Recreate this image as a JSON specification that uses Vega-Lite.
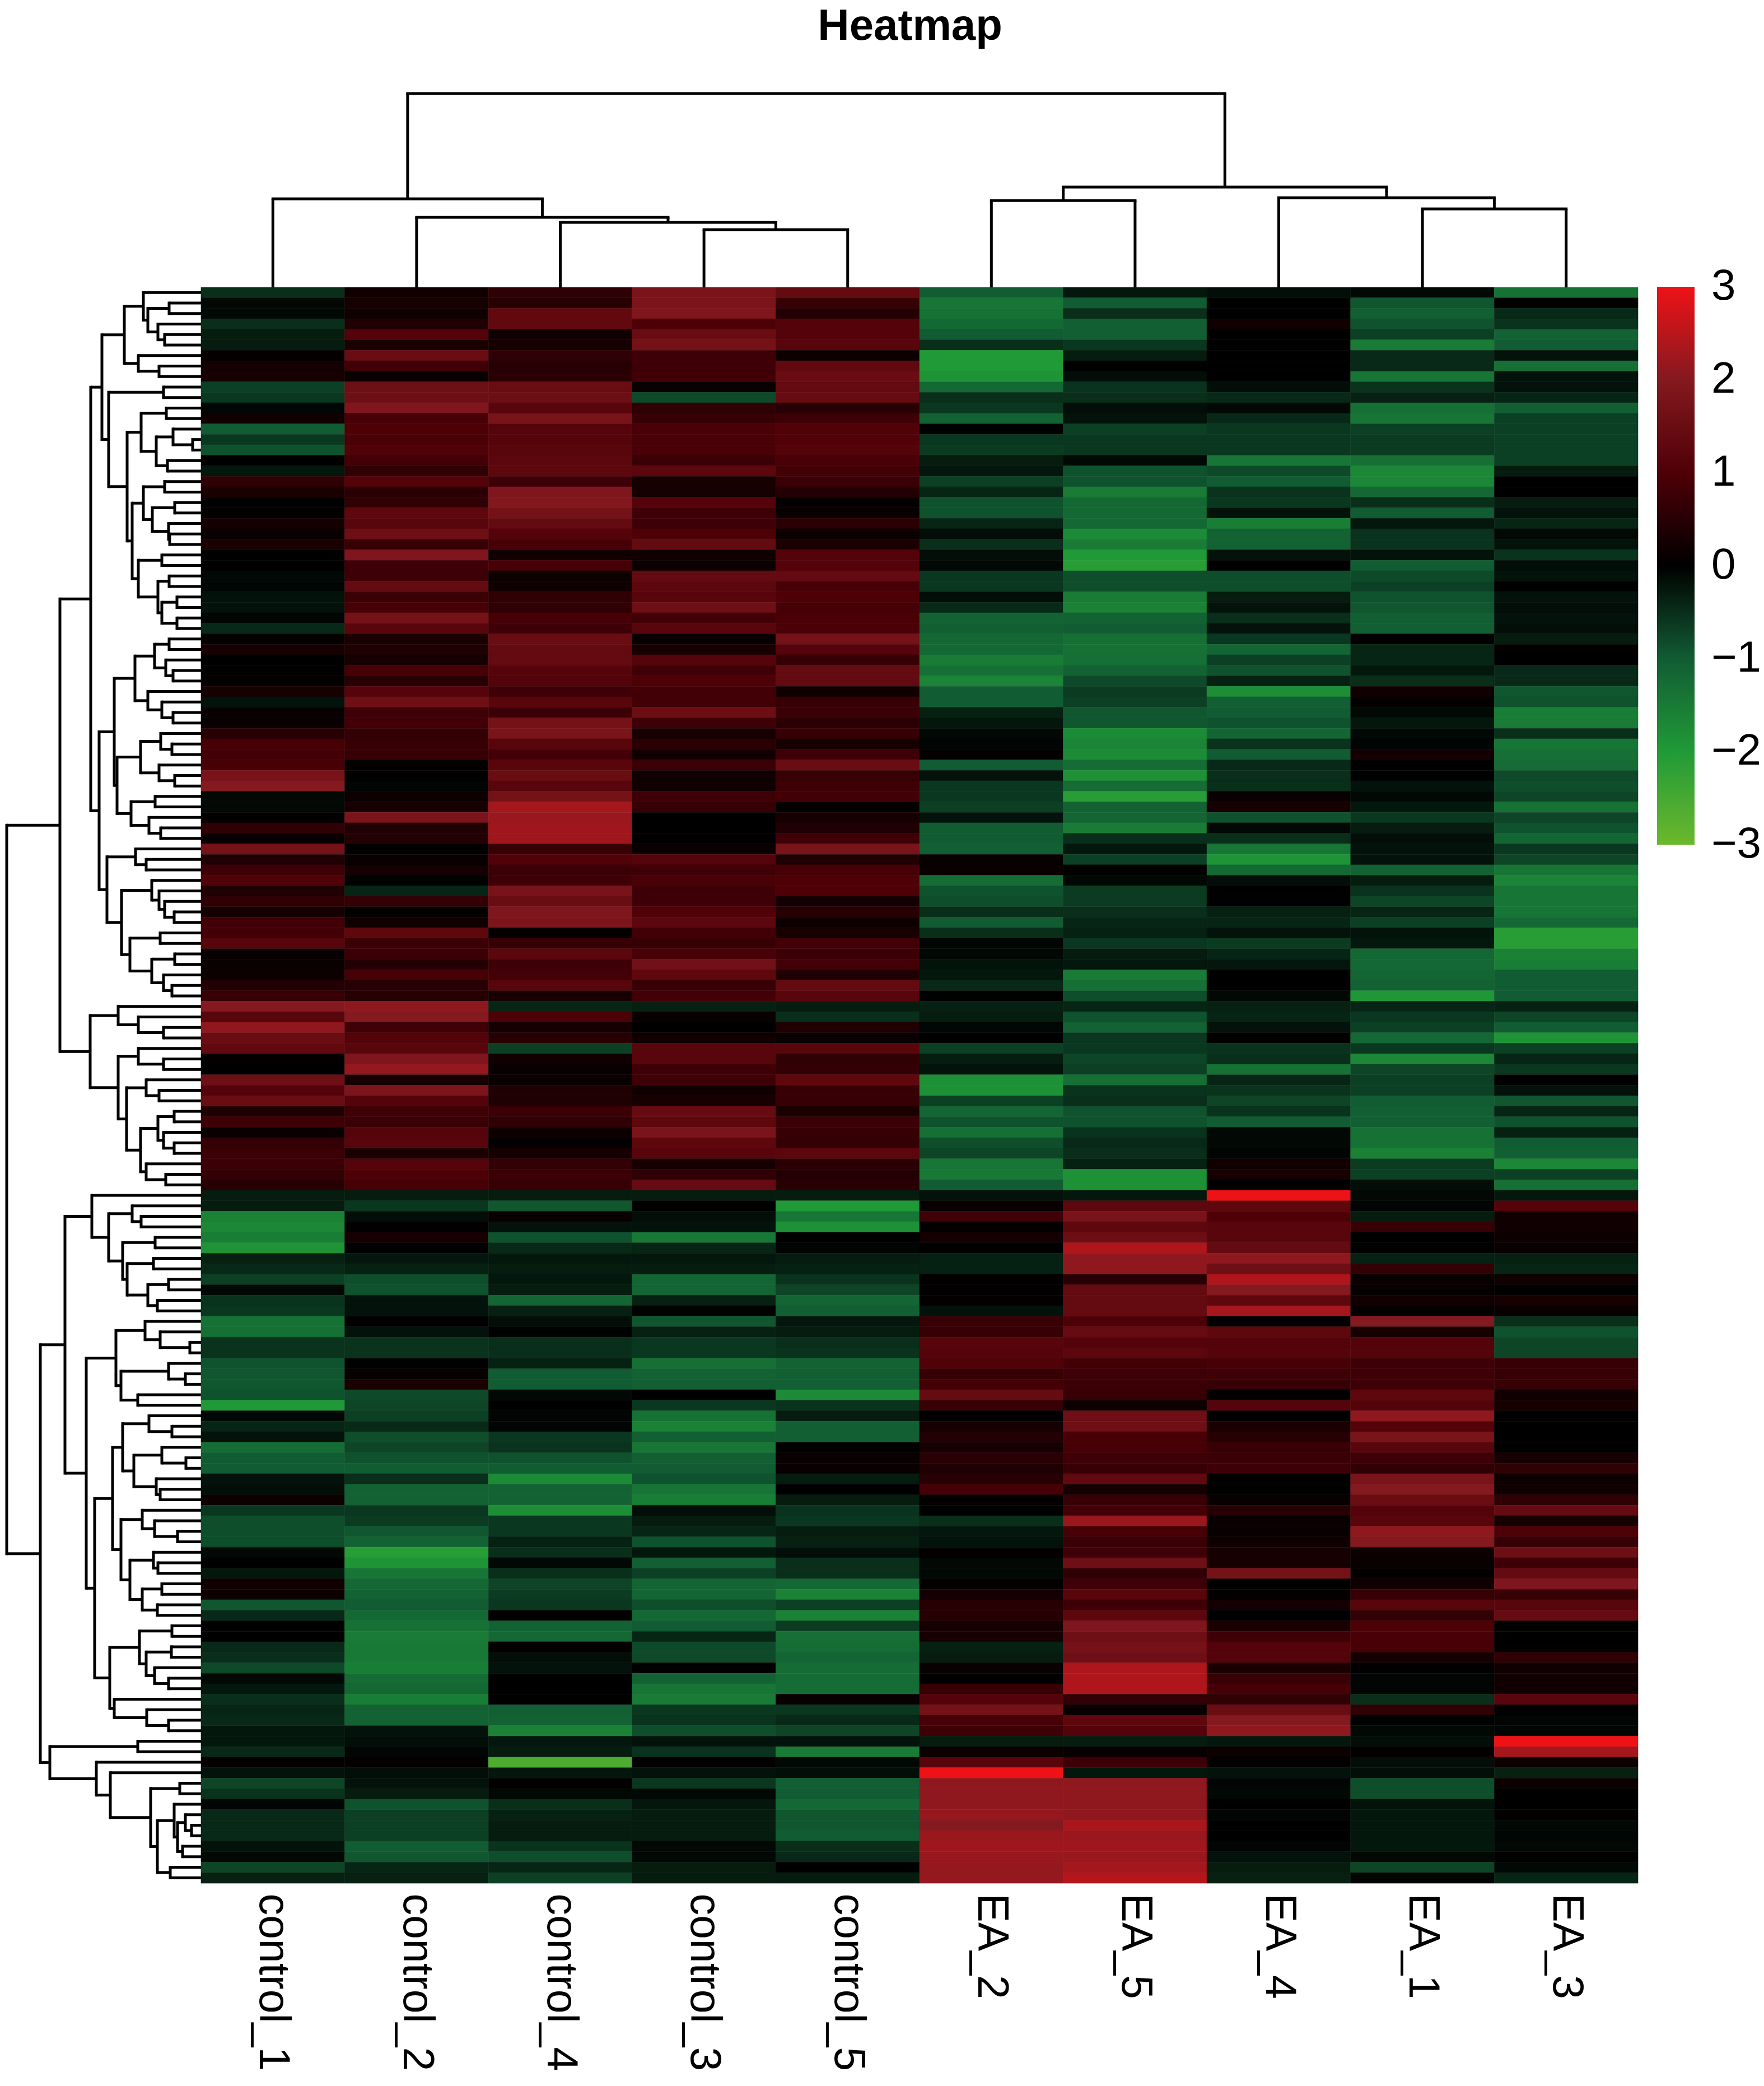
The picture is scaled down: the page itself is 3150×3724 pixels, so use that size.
{"$schema":"https://vega.github.io/schema/vega-lite/v6.json","width":3150,"height":3724,"autosize":{"type":"none"},"padding":0,"background":"white","config":{"view":{"stroke":null}},
"resolve":{"scale":{"x":"independent","y":"independent"}},
"datasets":{"left":[
{"h":57,"a":1.5,"b":2.5,"ha":0,"hb":0},{"h":65,"a":4.5,"b":5.5,"ha":0,"hb":0},{"h":77,"a":3.5,"b":5,"ha":0,"hb":65},{"h":95,"a":2,"b":4.25,"ha":57,"hb":77},{"h":103,"a":0.5,"b":3.125,"ha":0,"hb":95},{"h":75,"a":7.5,"b":8.5,"ha":0,"hb":0},{"h":112,"a":6.5,"b":8,"ha":0,"hb":75},{"h":137,"a":1.81,"b":7.25,"ha":103,"hb":112},{"h":67,"a":9.5,"b":10.5,"ha":0,"hb":0},{"h":62,"a":11.5,"b":12.5,"ha":0,"hb":0},{"h":15,"a":14.5,"b":15.5,"ha":0,"hb":0},{"h":50,"a":13.5,"b":15,"ha":0,"hb":15},{"h":60,"a":16.5,"b":17.5,"ha":0,"hb":0},{"h":80,"a":14.25,"b":17,"ha":50,"hb":60},{"h":107,"a":12,"b":15.625,"ha":62,"hb":80},{"h":65,"a":18.5,"b":19.5,"ha":0,"hb":0},{"h":47,"a":20.5,"b":21.5,"ha":0,"hb":0},{"h":56,"a":23.5,"b":24.5,"ha":0,"hb":0},{"h":58,"a":22.5,"b":24,"ha":0,"hb":56},{"h":87,"a":21,"b":23.25,"ha":47,"hb":58},{"h":103,"a":19,"b":22.125,"ha":65,"hb":87},{"h":70,"a":25.5,"b":26.5,"ha":0,"hb":0},{"h":57,"a":27.5,"b":28.5,"ha":0,"hb":0},{"h":43,"a":29.5,"b":30.5,"ha":0,"hb":0},{"h":43,"a":31.5,"b":32.5,"ha":0,"hb":0},{"h":70,"a":30,"b":32,"ha":43,"hb":43},{"h":77,"a":28,"b":31,"ha":57,"hb":70},{"h":112,"a":26,"b":29.5,"ha":70,"hb":77},{"h":123,"a":20.56,"b":27.75,"ha":103,"hb":112},{"h":132,"a":13.81,"b":24.16,"ha":107,"hb":123},{"h":165,"a":10,"b":18.985,"ha":67,"hb":132},{"h":177,"a":4.53,"b":14.49,"ha":137,"hb":165},
{"h":57,"a":33.5,"b":34.5,"ha":0,"hb":0},{"h":50,"a":36.5,"b":37.5,"ha":0,"hb":0},{"h":63,"a":35.5,"b":37,"ha":0,"hb":50},{"h":83,"a":34,"b":36.25,"ha":57,"hb":63},{"h":50,"a":40.5,"b":41.5,"ha":0,"hb":0},{"h":70,"a":39.5,"b":41,"ha":0,"hb":50},{"h":95,"a":38.5,"b":40.25,"ha":0,"hb":70},{"h":118,"a":35.125,"b":39.375,"ha":83,"hb":95},{"h":52,"a":43.5,"b":44.5,"ha":0,"hb":0},{"h":72,"a":42.5,"b":44,"ha":0,"hb":52},{"h":47,"a":46.5,"b":47.5,"ha":0,"hb":0},{"h":75,"a":45.5,"b":47,"ha":0,"hb":47},{"h":108,"a":43.25,"b":46.25,"ha":72,"hb":75},{"h":82,"a":48.5,"b":49.5,"ha":0,"hb":0},{"h":72,"a":51.5,"b":52.5,"ha":0,"hb":0},{"h":93,"a":50.5,"b":52,"ha":0,"hb":72},{"h":125,"a":49,"b":51.25,"ha":82,"hb":93},{"h":150,"a":44.75,"b":50.125,"ha":108,"hb":125},{"h":155,"a":37.25,"b":47.44,"ha":118,"hb":150},{"h":98,"a":54.5,"b":55.5,"ha":0,"hb":0},{"h":117,"a":53.5,"b":55,"ha":0,"hb":98},{"h":48,"a":59.5,"b":60.5,"ha":0,"hb":0},{"h":65,"a":58.5,"b":60,"ha":0,"hb":48},{"h":75,"a":57.5,"b":59.25,"ha":0,"hb":65},{"h":88,"a":56.5,"b":58.375,"ha":0,"hb":75},{"h":73,"a":61.5,"b":62.5,"ha":0,"hb":0},{"h":47,"a":63.5,"b":64.5,"ha":0,"hb":0},{"h":52,"a":66.5,"b":67.5,"ha":0,"hb":0},{"h":67,"a":65.5,"b":67,"ha":0,"hb":52},{"h":88,"a":64,"b":66.25,"ha":47,"hb":67},{"h":127,"a":62,"b":65.125,"ha":73,"hb":88},{"h":142,"a":57.44,"b":63.56,"ha":88,"hb":127},{"h":168,"a":54.25,"b":60.5,"ha":117,"hb":142},{"h":182,"a":42.345,"b":57.375,"ha":155,"hb":168},{"h":197,"a":9.51,"b":49.86,"ha":177,"hb":182},
{"h":67,"a":70.5,"b":71.5,"ha":0,"hb":0},{"h":112,"a":69.5,"b":71,"ha":0,"hb":67},{"h":148,"a":68.5,"b":70.25,"ha":0,"hb":112},{"h":67,"a":73.5,"b":74.5,"ha":0,"hb":0},{"h":112,"a":72.5,"b":74,"ha":0,"hb":67},{"h":75,"a":76.5,"b":77.5,"ha":0,"hb":0},{"h":98,"a":75.5,"b":77,"ha":0,"hb":75},{"h":48,"a":78.5,"b":79.5,"ha":0,"hb":0},{"h":48,"a":81.5,"b":82.5,"ha":0,"hb":0},{"h":67,"a":80.5,"b":82,"ha":0,"hb":48},{"h":77,"a":79,"b":81.25,"ha":48,"hb":67},{"h":63,"a":84.5,"b":85.5,"ha":0,"hb":0},{"h":98,"a":83.5,"b":85,"ha":0,"hb":63},{"h":108,"a":80.125,"b":84.25,"ha":77,"hb":98},{"h":133,"a":76.25,"b":82.19,"ha":98,"hb":108},{"h":148,"a":73.25,"b":79.22,"ha":112,"hb":133},{"h":198,"a":69.375,"b":76.235,"ha":148,"hb":148},{"h":252,"a":29.685,"b":72.8,"ha":197,"hb":198},
{"h":107,"a":88.5,"b":89.5,"ha":0,"hb":0},{"h":123,"a":87.5,"b":89,"ha":0,"hb":107},{"h":82,"a":90.5,"b":91.5,"ha":0,"hb":0},{"h":85,"a":92.5,"b":93.5,"ha":0,"hb":0},{"h":58,"a":94.5,"b":95.5,"ha":0,"hb":0},{"h":78,"a":96.5,"b":97.5,"ha":0,"hb":0},{"h":95,"a":95,"b":97,"ha":58,"hb":78},{"h":132,"a":93,"b":96,"ha":85,"hb":95},{"h":140,"a":91,"b":94.5,"ha":82,"hb":132},{"h":165,"a":88.25,"b":92.75,"ha":123,"hb":140},{"h":195,"a":86.5,"b":90.5,"ha":0,"hb":165},{"h":20,"a":100.5,"b":101.5,"ha":0,"hb":0},{"h":73,"a":99.5,"b":101,"ha":0,"hb":20},{"h":100,"a":98.5,"b":100.25,"ha":0,"hb":73},{"h":28,"a":103.5,"b":104.5,"ha":0,"hb":0},{"h":58,"a":102.5,"b":104,"ha":0,"hb":28},{"h":113,"a":105.5,"b":106.5,"ha":0,"hb":0},{"h":143,"a":103.25,"b":106,"ha":58,"hb":113},{"h":152,"a":99.375,"b":104.625,"ha":100,"hb":143},{"h":52,"a":108.5,"b":109.5,"ha":0,"hb":0},{"h":93,"a":107.5,"b":109,"ha":0,"hb":52},{"h":27,"a":111.5,"b":112.5,"ha":0,"hb":0},{"h":70,"a":110.5,"b":112,"ha":0,"hb":27},{"h":73,"a":114.5,"b":115.5,"ha":0,"hb":0},{"h":80,"a":113.5,"b":115,"ha":0,"hb":73},{"h":120,"a":111.25,"b":114.25,"ha":70,"hb":80},{"h":140,"a":108.25,"b":112.75,"ha":93,"hb":120},{"h":42,"a":118.5,"b":119.5,"ha":0,"hb":0},{"h":83,"a":117.5,"b":119,"ha":0,"hb":42},{"h":105,"a":116.5,"b":118.25,"ha":0,"hb":83},{"h":77,"a":121.5,"b":122.5,"ha":0,"hb":0},{"h":85,"a":120.5,"b":122,"ha":0,"hb":77},{"h":70,"a":123.5,"b":124.5,"ha":0,"hb":0},{"h":78,"a":125.5,"b":126.5,"ha":0,"hb":0},{"h":105,"a":124,"b":126,"ha":70,"hb":78},{"h":127,"a":121.25,"b":125,"ha":85,"hb":105},{"h":143,"a":117.375,"b":123.125,"ha":105,"hb":127},{"h":158,"a":110.5,"b":120.25,"ha":140,"hb":143},{"h":52,"a":127.5,"b":128.5,"ha":0,"hb":0},{"h":53,"a":129.5,"b":130.5,"ha":0,"hb":0},{"h":58,"a":132.5,"b":133.5,"ha":0,"hb":0},{"h":83,"a":131.5,"b":133,"ha":0,"hb":58},{"h":98,"a":130,"b":132.25,"ha":53,"hb":83},{"h":110,"a":128,"b":131.125,"ha":52,"hb":98},{"h":58,"a":136.5,"b":137.5,"ha":0,"hb":0},{"h":97,"a":135.5,"b":137,"ha":0,"hb":58},{"h":155,"a":134.5,"b":136.25,"ha":0,"hb":97},{"h":163,"a":129.56,"b":135.375,"ha":110,"hb":155},{"h":190,"a":115.375,"b":132.47,"ha":158,"hb":163},{"h":205,"a":102,"b":123.92,"ha":152,"hb":190},{"h":243,"a":88.5,"b":112.96,"ha":195,"hb":205},{"h":113,"a":138.5,"b":139.5,"ha":0,"hb":0},{"h":38,"a":142.5,"b":143.5,"ha":0,"hb":0},{"h":17,"a":146.5,"b":147.5,"ha":0,"hb":0},{"h":28,"a":145.5,"b":147,"ha":0,"hb":17},{"h":33,"a":148.5,"b":149.5,"ha":0,"hb":0},{"h":42,"a":146.25,"b":149,"ha":28,"hb":33},{"h":48,"a":144.5,"b":147.625,"ha":0,"hb":42},{"h":55,"a":150.5,"b":151.5,"ha":0,"hb":0},{"h":78,"a":146.06,"b":151,"ha":48,"hb":55},{"h":90,"a":143,"b":148.53,"ha":38,"hb":78},{"h":162,"a":141.5,"b":145.77,"ha":0,"hb":90},{"h":187,"a":140.5,"b":143.63,"ha":0,"hb":162},{"h":270,"a":139,"b":142.07,"ha":113,"hb":187},{"h":287,"a":100.73,"b":140.53,"ha":243,"hb":270},{"h":347,"a":51.24,"b":120.63,"ha":252,"hb":287}
],
"top":[
{"p1":8.5,"p2":9.5,"m":140,"m1":0,"m2":0},{"p1":7.5,"p2":9,"m":160,"m1":0,"m2":140},{"p1":5.5,"p2":6.5,"m":155,"m1":0,"m2":0},{"p1":6,"p2":8.25,"m":179,"m1":155,"m2":160},{"p1":3.5,"p2":4.5,"m":103,"m1":0,"m2":0},{"p1":2.5,"p2":4,"m":116,"m1":0,"m2":103},{"p1":1.5,"p2":3.25,"m":125,"m1":0,"m2":116},{"p1":0.5,"p2":2.375,"m":158,"m1":0,"m2":125},{"p1":1.4375,"p2":7.125,"m":346,"m1":158,"m2":179}
],
"cells":[
{"r":0,"control_1":-0.5,"control_2":0.2,"control_4":0.6,"control_3":1.8,"control_5":1.4,"EA_2":-1,"EA_5":-0.25,"EA_4":-0.15,"EA_1":-0.1,"EA_3":-1.35},
{"r":1,"control_1":-0.1,"control_2":0.3,"control_4":0.5,"control_3":1.85,"control_5":0.7,"EA_2":-1.4,"EA_5":-1,"EA_4":0,"EA_1":-0.95,"EA_3":0},
{"r":2,"control_1":-0.1,"control_2":0.2,"control_4":1.35,"control_3":1.9,"control_5":0.45,"EA_2":-1.35,"EA_5":-0.5,"EA_4":0,"EA_1":-1.05,"EA_3":-0.45},
{"r":3,"control_1":-0.5,"control_2":0.4,"control_4":1.35,"control_3":1,"control_5":1.1,"EA_2":-1.2,"EA_5":-1.05,"EA_4":0.2,"EA_1":-0.9,"EA_3":-0.55},
{"r":4,"control_1":-0.3,"control_2":1.1,"control_4":0.2,"control_3":1.5,"control_5":1.1,"EA_2":-1,"EA_5":-1.05,"EA_4":0,"EA_1":-0.7,"EA_3":-1.1},
{"r":5,"control_1":-0.3,"control_2":0.35,"control_4":0.3,"control_3":1.7,"control_5":1.2,"EA_2":-0.5,"EA_5":-0.6,"EA_4":0,"EA_1":-1.5,"EA_3":-1},
{"r":6,"control_1":0.05,"control_2":1.5,"control_4":0.6,"control_3":0.8,"control_5":0.15,"EA_2":-2,"EA_5":-0.3,"EA_4":0,"EA_1":-0.45,"EA_3":-0.2},
{"r":7,"control_1":0.25,"control_2":0.8,"control_4":0.5,"control_3":0.8,"control_5":1.35,"EA_2":-2,"EA_5":0,"EA_4":0,"EA_1":-0.45,"EA_3":-1.3},
{"r":8,"control_1":0.3,"control_2":0.1,"control_4":0.55,"control_3":0.85,"control_5":1.5,"EA_2":-1.9,"EA_5":-0.15,"EA_4":0,"EA_1":-1.4,"EA_3":-0.2},
{"r":9,"control_1":-0.7,"control_2":1.6,"control_4":1.5,"control_3":0.1,"control_5":1.4,"EA_2":-1.2,"EA_5":-0.55,"EA_4":-0.15,"EA_1":-0.55,"EA_3":-0.2},
{"r":10,"control_1":-0.6,"control_2":1.6,"control_4":1.55,"control_3":-0.8,"control_5":1.45,"EA_2":-0.5,"EA_5":-0.5,"EA_4":-0.45,"EA_1":-0.35,"EA_3":-0.4},
{"r":11,"control_1":-0.05,"control_2":1.9,"control_4":1.2,"control_3":0.6,"control_5":0.5,"EA_2":-0.6,"EA_5":-0.15,"EA_4":-0.1,"EA_1":-1.3,"EA_3":-1.05},
{"r":12,"control_1":0.2,"control_2":0.9,"control_4":1.75,"control_3":0.7,"control_5":0.8,"EA_2":-1.1,"EA_5":-0.2,"EA_4":-0.45,"EA_1":-1.4,"EA_3":-0.7},
{"r":13,"control_1":-1,"control_2":1,"control_4":1.15,"control_3":0.95,"control_5":1.05,"EA_2":0,"EA_5":-0.7,"EA_4":-0.6,"EA_1":-0.7,"EA_3":-0.7},
{"r":14,"control_1":-0.6,"control_2":0.95,"control_4":1.15,"control_3":0.95,"control_5":1.05,"EA_2":-0.6,"EA_5":-0.6,"EA_4":-0.6,"EA_1":-0.65,"EA_3":-0.7},
{"r":15,"control_1":-0.9,"control_2":1.05,"control_4":1.2,"control_3":0.95,"control_5":1.1,"EA_2":-0.65,"EA_5":-0.6,"EA_4":-0.6,"EA_1":-0.65,"EA_3":-0.7},
{"r":16,"control_1":0,"control_2":0.85,"control_4":1.25,"control_3":0.75,"control_5":0.95,"EA_2":-0.3,"EA_5":-0.1,"EA_4":-1.4,"EA_1":-1.3,"EA_3":-0.7},
{"r":17,"control_1":-0.25,"control_2":0.6,"control_4":1.3,"control_3":1.25,"control_5":0.85,"EA_2":-0.25,"EA_5":-0.9,"EA_4":-0.8,"EA_1":-1.7,"EA_3":-0.3},
{"r":18,"control_1":0.6,"control_2":1.1,"control_4":0.8,"control_3":0.3,"control_5":0.75,"EA_2":-0.7,"EA_5":-0.9,"EA_4":-1,"EA_1":-1.7,"EA_3":0},
{"r":19,"control_1":0.35,"control_2":0.55,"control_4":1.9,"control_3":0.25,"control_5":0.45,"EA_2":-0.4,"EA_5":-1.5,"EA_4":-0.55,"EA_1":-1.2,"EA_3":0},
{"r":20,"control_1":0,"control_2":0.6,"control_4":1.95,"control_3":1.1,"control_5":0.05,"EA_2":-0.9,"EA_5":-1.2,"EA_4":-0.6,"EA_1":-0.5,"EA_3":-0.3},
{"r":21,"control_1":0.03,"control_2":1.3,"control_4":1.7,"control_3":0.8,"control_5":0.1,"EA_2":-0.9,"EA_5":-1.2,"EA_4":-0.2,"EA_1":-1,"EA_3":-0.2},
{"r":22,"control_1":0.25,"control_2":1.2,"control_4":1.4,"control_3":0.8,"control_5":0.55,"EA_2":-0.4,"EA_5":-1.2,"EA_4":-1.55,"EA_1":-0.25,"EA_3":-0.4},
{"r":23,"control_1":0.1,"control_2":1.6,"control_4":1.1,"control_3":1,"control_5":0.15,"EA_2":-0.15,"EA_5":-1.75,"EA_4":-1.1,"EA_1":-0.55,"EA_3":-0.1},
{"r":24,"control_1":0.35,"control_2":0.7,"control_4":0.9,"control_3":1.4,"control_5":0.35,"EA_2":-0.5,"EA_5":-1.5,"EA_4":-1.1,"EA_1":-0.55,"EA_3":-0.2},
{"r":25,"control_1":0,"control_2":1.9,"control_4":0.2,"control_3":0.2,"control_5":1.1,"EA_2":-0.15,"EA_5":-2,"EA_4":-0.2,"EA_1":-0.2,"EA_3":-0.55},
{"r":26,"control_1":0,"control_2":0.8,"control_4":0.9,"control_3":0.15,"control_5":1.1,"EA_2":-0.1,"EA_5":-2.1,"EA_4":0,"EA_1":-1,"EA_3":-0.15},
{"r":27,"control_1":-0.1,"control_2":0.8,"control_4":0.15,"control_3":1.4,"control_5":1.4,"EA_2":-0.6,"EA_5":-0.85,"EA_4":-0.85,"EA_1":-0.8,"EA_3":-0.2},
{"r":28,"control_1":-0.05,"control_2":1.4,"control_4":0.2,"control_3":1.25,"control_5":0.9,"EA_2":-0.6,"EA_5":-0.85,"EA_4":-0.85,"EA_1":-0.7,"EA_3":0},
{"r":29,"control_1":-0.2,"control_2":0.75,"control_4":0.6,"control_3":1.2,"control_5":1,"EA_2":-0.15,"EA_5":-1.5,"EA_4":-0.3,"EA_1":-0.9,"EA_3":-0.2},
{"r":30,"control_1":-0.2,"control_2":0.9,"control_4":0.6,"control_3":1.6,"control_5":0.9,"EA_2":-0.45,"EA_5":-1.6,"EA_4":-0.2,"EA_1":-0.95,"EA_3":-0.15},
{"r":31,"control_1":-0.05,"control_2":1.7,"control_4":0.9,"control_3":0.85,"control_5":0.95,"EA_2":-1.1,"EA_5":-1.1,"EA_4":-0.5,"EA_1":-1.05,"EA_3":-0.2},
{"r":32,"control_1":-0.45,"control_2":1.2,"control_4":0.8,"control_3":1.2,"control_5":0.95,"EA_2":-1.05,"EA_5":-1,"EA_4":-0.2,"EA_1":-1.05,"EA_3":-0.15},
{"r":33,"control_1":0.05,"control_2":0.35,"control_4":1.5,"control_3":0.1,"control_5":1.7,"EA_2":-1.2,"EA_5":-1.3,"EA_4":-0.6,"EA_1":0,"EA_3":-0.3},
{"r":34,"control_1":0.3,"control_2":0.4,"control_4":1.4,"control_3":0.3,"control_5":1.15,"EA_2":-1.2,"EA_5":-1.35,"EA_4":-1.15,"EA_1":-0.4,"EA_3":0.05},
{"r":35,"control_1":0,"control_2":0.3,"control_4":1.4,"control_3":1.15,"control_5":0.7,"EA_2":-1.5,"EA_5":-1.3,"EA_4":-0.7,"EA_1":-0.4,"EA_3":0},
{"r":36,"control_1":0,"control_2":0.9,"control_4":1.15,"control_3":0.8,"control_5":1.4,"EA_2":-1.3,"EA_5":-1.1,"EA_4":-0.9,"EA_1":-0.25,"EA_3":-0.45},
{"r":37,"control_1":0.05,"control_2":0.5,"control_4":1.1,"control_3":1,"control_5":1.4,"EA_2":-1.65,"EA_5":-0.8,"EA_4":-0.35,"EA_1":-0.5,"EA_3":-0.45},
{"r":38,"control_1":0.3,"control_2":1.15,"control_4":0.8,"control_3":0.85,"control_5":0.2,"EA_2":-1,"EA_5":-0.65,"EA_4":-1.8,"EA_1":0.2,"EA_3":-0.95},
{"r":39,"control_1":-0.2,"control_2":1.6,"control_4":1.2,"control_3":0.85,"control_5":0.7,"EA_2":-1,"EA_5":-0.7,"EA_4":-1.05,"EA_1":0.05,"EA_3":-0.9},
{"r":40,"control_1":0.1,"control_2":0.8,"control_4":0.75,"control_3":1.55,"control_5":0.75,"EA_2":-0.35,"EA_5":-0.95,"EA_4":-1,"EA_1":-0.1,"EA_3":-1.55},
{"r":41,"control_1":0.1,"control_2":0.85,"control_4":1.7,"control_3":0.8,"control_5":0.55,"EA_2":-0.25,"EA_5":-0.95,"EA_4":-0.9,"EA_1":-0.25,"EA_3":-1.5},
{"r":42,"control_1":0.5,"control_2":0.65,"control_4":1.8,"control_3":0.3,"control_5":0.7,"EA_2":-0.1,"EA_5":-1.75,"EA_4":-1.15,"EA_1":-0.1,"EA_3":-0.5},
{"r":43,"control_1":0.9,"control_2":0.7,"control_4":1.2,"control_3":0.55,"control_5":0.3,"EA_2":-0.05,"EA_5":-1.65,"EA_4":-0.55,"EA_1":-0.05,"EA_3":-1.4},
{"r":44,"control_1":0.85,"control_2":0.7,"control_4":0.85,"control_3":0.2,"control_5":0.8,"EA_2":0.05,"EA_5":-1.75,"EA_4":-1,"EA_1":0.25,"EA_3":-1.3},
{"r":45,"control_1":0.9,"control_2":0.05,"control_4":1.2,"control_3":0.75,"control_5":1.5,"EA_2":-1,"EA_5":-1.25,"EA_4":-0.45,"EA_1":0,"EA_3":-1.25},
{"r":46,"control_1":1.75,"control_2":0,"control_4":1.5,"control_3":0.2,"control_5":0.7,"EA_2":-0.2,"EA_5":-1.85,"EA_4":-0.5,"EA_1":-0.02,"EA_3":-0.8},
{"r":47,"control_1":2,"control_2":-0.05,"control_4":1.2,"control_3":0.2,"control_5":0.8,"EA_2":-0.6,"EA_5":-1.25,"EA_4":-0.5,"EA_1":-0.2,"EA_3":-0.85},
{"r":48,"control_1":-0.1,"control_2":0.15,"control_4":1.7,"control_3":0.8,"control_5":0.85,"EA_2":-0.6,"EA_5":-2.1,"EA_4":0.1,"EA_1":-0.1,"EA_3":-0.75},
{"r":49,"control_1":-0.1,"control_2":0.3,"control_4":2.3,"control_3":0.7,"control_5":0.05,"EA_2":-0.7,"EA_5":-1.1,"EA_4":0.3,"EA_1":-0.25,"EA_3":-1.35},
{"r":50,"control_1":0.02,"control_2":1.85,"control_4":2.2,"control_3":0,"control_5":0.3,"EA_2":-0.2,"EA_5":-1.15,"EA_4":-0.9,"EA_1":-0.6,"EA_3":-0.75},
{"r":51,"control_1":0.6,"control_2":0.4,"control_4":2.25,"control_3":0,"control_5":0.4,"EA_2":-1,"EA_5":-1.5,"EA_4":-0.1,"EA_1":-0.3,"EA_3":-0.9},
{"r":52,"control_1":0.1,"control_2":0.45,"control_4":2.25,"control_3":0,"control_5":0.8,"EA_2":-1,"EA_5":-0.5,"EA_4":-0.5,"EA_1":-0.15,"EA_3":-1.15},
{"r":53,"control_1":1.7,"control_2":0,"control_4":0.7,"control_3":0.1,"control_5":1.8,"EA_2":-1.05,"EA_5":-0.25,"EA_4":-1.4,"EA_1":-0.2,"EA_3":-0.6},
{"r":54,"control_1":0.4,"control_2":0.1,"control_4":1.05,"control_3":1.15,"control_5":0.4,"EA_2":0.12,"EA_5":-0.7,"EA_4":-1.9,"EA_1":-0.2,"EA_3":-0.75},
{"r":55,"control_1":0.8,"control_2":0.25,"control_4":0.75,"control_3":0.8,"control_5":0.9,"EA_2":0.1,"EA_5":0.02,"EA_4":-1.2,"EA_1":-1.1,"EA_3":-1.4},
{"r":56,"control_1":1.05,"control_2":-0.03,"control_4":0.8,"control_3":0.95,"control_5":1,"EA_2":-1.25,"EA_5":-0.1,"EA_4":-0.15,"EA_1":-0.3,"EA_3":-1.65},
{"r":57,"control_1":0.4,"control_2":-0.4,"control_4":1.75,"control_3":0.8,"control_5":1,"EA_2":-0.9,"EA_5":-0.65,"EA_4":0,"EA_1":-0.55,"EA_3":-1.4},
{"r":58,"control_1":0.6,"control_2":0.65,"control_4":1.5,"control_3":0.8,"control_5":0.25,"EA_2":-0.85,"EA_5":-0.65,"EA_4":0,"EA_1":-0.75,"EA_3":-1.4},
{"r":59,"control_1":0.3,"control_2":0.05,"control_4":1.9,"control_3":1.05,"control_5":0.5,"EA_2":-0.5,"EA_5":-0.5,"EA_4":-0.35,"EA_1":-0.4,"EA_3":-1.4},
{"r":60,"control_1":0.85,"control_2":0.2,"control_4":1.85,"control_3":1.25,"control_5":0.15,"EA_2":-1,"EA_5":-0.4,"EA_4":-0.4,"EA_1":-0.7,"EA_3":-1.2},
{"r":61,"control_1":0.85,"control_2":1.3,"control_4":0.05,"control_3":0.85,"control_5":0.3,"EA_2":-0.5,"EA_5":-0.35,"EA_4":-0.2,"EA_1":-0.2,"EA_3":-2.1},
{"r":62,"control_1":1.2,"control_2":0.75,"control_4":0.7,"control_3":0.7,"control_5":0.85,"EA_2":-0.05,"EA_5":-0.6,"EA_4":-0.65,"EA_1":-0.25,"EA_3":-2.1},
{"r":63,"control_1":0.1,"control_2":0.75,"control_4":1.25,"control_3":0.95,"control_5":0.75,"EA_2":-0.1,"EA_5":-0.3,"EA_4":-0.4,"EA_1":-1.2,"EA_3":-1.6},
{"r":64,"control_1":0.1,"control_2":0.45,"control_4":0.8,"control_3":1.65,"control_5":0.85,"EA_2":-0.2,"EA_5":-0.25,"EA_4":-0.25,"EA_1":-1.2,"EA_3":-1.55},
{"r":65,"control_1":0.15,"control_2":0.9,"control_4":0.85,"control_3":1.3,"control_5":0.4,"EA_2":-0.25,"EA_5":-1.5,"EA_4":0,"EA_1":-1.15,"EA_3":-1},
{"r":66,"control_1":0.45,"control_2":0.5,"control_4":1.2,"control_3":0.7,"control_5":1.4,"EA_2":-0.45,"EA_5":-1.3,"EA_4":0,"EA_1":-1.1,"EA_3":-1},
{"r":67,"control_1":0.7,"control_2":0.5,"control_4":0.3,"control_3":0.85,"control_5":1.2,"EA_2":-0.02,"EA_5":-0.85,"EA_4":-0.1,"EA_1":-1.95,"EA_3":-1},
{"r":68,"control_1":2,"control_2":2.1,"control_4":-0.4,"control_3":-0.35,"control_5":-0.3,"EA_2":-0.35,"EA_5":-0.4,"EA_4":-0.35,"EA_1":-0.4,"EA_3":-0.35},
{"r":69,"control_1":1.2,"control_2":2,"control_4":1,"control_3":0.1,"control_5":-0.5,"EA_2":-0.3,"EA_5":-0.9,"EA_4":-0.4,"EA_1":-0.6,"EA_3":-0.75},
{"r":70,"control_1":2.1,"control_2":0.8,"control_4":0.25,"control_3":0,"control_5":0.4,"EA_2":-0.08,"EA_5":-1.1,"EA_4":-0.2,"EA_1":-0.7,"EA_3":-1},
{"r":71,"control_1":1.5,"control_2":1.1,"control_4":0.5,"control_3":0.2,"control_5":0.1,"EA_2":0,"EA_5":-0.6,"EA_4":0,"EA_1":-1.2,"EA_3":-1.9},
{"r":72,"control_1":1.35,"control_2":1.2,"control_4":-0.7,"control_3":1.2,"control_5":1.2,"EA_2":-0.7,"EA_5":-0.6,"EA_4":-0.55,"EA_1":-0.6,"EA_3":-0.7},
{"r":73,"control_1":0.05,"control_2":1.9,"control_4":0.2,"control_3":1.2,"control_5":0.6,"EA_2":-0.3,"EA_5":-0.75,"EA_4":-0.5,"EA_1":-1.7,"EA_3":-0.4},
{"r":74,"control_1":0,"control_2":2.15,"control_4":0.1,"control_3":0.8,"control_5":0.65,"EA_2":-0.2,"EA_5":-0.7,"EA_4":-1.35,"EA_1":-0.75,"EA_3":-0.6},
{"r":75,"control_1":1.6,"control_2":0.3,"control_4":0.1,"control_3":0.8,"control_5":1.3,"EA_2":-1.85,"EA_5":-1.3,"EA_4":-0.4,"EA_1":-0.7,"EA_3":0},
{"r":76,"control_1":1.1,"control_2":1.85,"control_4":0.4,"control_3":0.2,"control_5":0.7,"EA_2":-1.85,"EA_5":-0.55,"EA_4":-0.55,"EA_1":-0.7,"EA_3":-0.2},
{"r":77,"control_1":1.5,"control_2":1.1,"control_4":0.4,"control_3":0.3,"control_5":0.7,"EA_2":-0.7,"EA_5":-0.5,"EA_4":-0.75,"EA_1":-1,"EA_3":-0.95},
{"r":78,"control_1":0.4,"control_2":0.8,"control_4":0.75,"control_3":1.45,"control_5":0.35,"EA_2":-1.15,"EA_5":-0.9,"EA_4":-0.55,"EA_1":-1.05,"EA_3":-0.4},
{"r":79,"control_1":0.8,"control_2":0.75,"control_4":0.6,"control_3":1.3,"control_5":0.75,"EA_2":-0.9,"EA_5":-0.9,"EA_4":-1,"EA_1":-1.05,"EA_3":-0.9},
{"r":80,"control_1":0.1,"control_2":1.15,"control_4":0.15,"control_3":1.8,"control_5":0.7,"EA_2":-1.3,"EA_5":-0.55,"EA_4":-0.1,"EA_1":-1.35,"EA_3":-0.35},
{"r":81,"control_1":0.65,"control_2":1.2,"control_4":0.02,"control_3":1.3,"control_5":0.65,"EA_2":-0.85,"EA_5":-0.45,"EA_4":-0.1,"EA_1":-1.35,"EA_3":-1},
{"r":82,"control_1":0.75,"control_2":0.35,"control_4":0.3,"control_3":1.2,"control_5":1.25,"EA_2":-0.75,"EA_5":-0.5,"EA_4":-0.05,"EA_1":-1.6,"EA_3":-1.05},
{"r":83,"control_1":0.75,"control_2":1.15,"control_4":0.65,"control_3":0.3,"control_5":0.55,"EA_2":-1.4,"EA_5":-0.35,"EA_4":0.2,"EA_1":-0.65,"EA_3":-1.7},
{"r":84,"control_1":0.65,"control_2":1,"control_4":0.75,"control_3":0.6,"control_5":0.45,"EA_2":-1.45,"EA_5":-1.85,"EA_4":0.3,"EA_1":-0.7,"EA_3":-0.7},
{"r":85,"control_1":0.5,"control_2":0.9,"control_4":0.7,"control_3":1.45,"control_5":0.5,"EA_2":-1,"EA_5":-1.85,"EA_4":0,"EA_1":-0.15,"EA_3":-1.3},
{"r":86,"control_1":-0.3,"control_2":-0.3,"control_4":-0.3,"control_3":-0.3,"control_5":-0.3,"EA_2":-0.2,"EA_5":-0.25,"EA_4":3,"EA_1":-0.1,"EA_3":-0.25},
{"r":87,"control_1":-0.3,"control_2":-0.6,"control_4":-0.95,"control_3":0,"control_5":-2,"EA_2":0.1,"EA_5":1.3,"EA_4":1.3,"EA_1":-0.05,"EA_3":1.1},
{"r":88,"control_1":-1.6,"control_2":-0.15,"control_4":0.1,"control_3":-0.15,"control_5":-1.4,"EA_2":0.8,"EA_5":1.75,"EA_4":1,"EA_1":-0.3,"EA_3":0.2},
{"r":89,"control_1":-1.7,"control_2":0.02,"control_4":-0.2,"control_3":-0.2,"control_5":-1.85,"EA_2":0.05,"EA_5":1.3,"EA_4":1.2,"EA_1":0.7,"EA_3":0.2},
{"r":90,"control_1":-1.55,"control_2":0.3,"control_4":-0.9,"control_3":-1.45,"control_5":0,"EA_2":0.25,"EA_5":1.55,"EA_4":1.2,"EA_1":0,"EA_3":0.15},
{"r":91,"control_1":-1.9,"control_2":0,"control_4":-0.45,"control_3":-0.4,"control_5":-0.05,"EA_2":0,"EA_5":2.4,"EA_4":1.4,"EA_1":0,"EA_3":0.1},
{"r":92,"control_1":-0.35,"control_2":-0.25,"control_4":-0.25,"control_3":-0.25,"control_5":-0.3,"EA_2":-0.35,"EA_5":2.1,"EA_4":2.1,"EA_1":-0.35,"EA_3":-0.35},
{"r":93,"control_1":-0.45,"control_2":-0.35,"control_4":-0.3,"control_3":-0.3,"control_5":-0.35,"EA_2":-0.35,"EA_5":2.1,"EA_4":1.6,"EA_1":0.65,"EA_3":-0.4},
{"r":94,"control_1":-0.7,"control_2":-0.85,"control_4":-0.25,"control_3":-1.15,"control_5":-0.55,"EA_2":0,"EA_5":0.5,"EA_4":2.4,"EA_1":0.1,"EA_3":0.2},
{"r":95,"control_1":-0.1,"control_2":-0.9,"control_4":-0.3,"control_3":-1.15,"control_5":-0.75,"EA_2":0.03,"EA_5":1.4,"EA_4":2,"EA_1":0.08,"EA_3":0},
{"r":96,"control_1":-0.55,"control_2":-0.2,"control_4":-1.15,"control_3":-0.35,"control_5":-1.15,"EA_2":0.05,"EA_5":1.4,"EA_4":1.3,"EA_1":0.2,"EA_3":0.3},
{"r":97,"control_1":-0.6,"control_2":-0.2,"control_4":-0.35,"control_3":-0.02,"control_5":-1.05,"EA_2":-0.2,"EA_5":1.4,"EA_4":2.3,"EA_1":0.05,"EA_3":0.1},
{"r":98,"control_1":-1.35,"control_2":0.02,"control_4":-0.15,"control_3":-0.95,"control_5":-0.25,"EA_2":0.7,"EA_5":1,"EA_4":0.03,"EA_1":2,"EA_3":-0.5},
{"r":99,"control_1":-1.3,"control_2":-0.2,"control_4":-0.02,"control_3":-0.35,"control_5":-0.3,"EA_2":0.7,"EA_5":1.45,"EA_4":1.3,"EA_1":0.3,"EA_3":-0.9},
{"r":100,"control_1":-0.55,"control_2":-0.55,"control_4":-0.5,"control_3":-0.6,"control_5":-0.5,"EA_2":1.2,"EA_5":1.1,"EA_4":1.1,"EA_1":1.1,"EA_3":-0.75},
{"r":101,"control_1":-0.55,"control_2":-0.55,"control_4":-0.5,"control_3":-0.6,"control_5":-0.55,"EA_2":1.15,"EA_5":1.25,"EA_4":1.15,"EA_1":1.15,"EA_3":-0.75},
{"r":102,"control_1":-0.9,"control_2":-0.02,"control_4":-0.35,"control_3":-1.3,"control_5":-1.1,"EA_2":1.05,"EA_5":0.85,"EA_4":0.9,"EA_1":0.8,"EA_3":0.7},
{"r":103,"control_1":-0.95,"control_2":0.1,"control_4":-1,"control_3":-1.1,"control_5":-1.05,"EA_2":0.7,"EA_5":0.8,"EA_4":0.8,"EA_1":0.8,"EA_3":0.7},
{"r":104,"control_1":-0.95,"control_2":0.35,"control_4":-1,"control_3":-1.05,"control_5":-1.05,"EA_2":0.85,"EA_5":0.75,"EA_4":0.7,"EA_1":0.8,"EA_3":0.7},
{"r":105,"control_1":-0.9,"control_2":-0.8,"control_4":-0.1,"control_3":0,"control_5":-1.75,"EA_2":1.45,"EA_5":0.7,"EA_4":0.03,"EA_1":1.3,"EA_3":0.2},
{"r":106,"control_1":-2,"control_2":-0.75,"control_4":0,"control_3":-0.6,"control_5":-0.55,"EA_2":0.7,"EA_5":0.15,"EA_4":1.15,"EA_1":1.1,"EA_3":0.3},
{"r":107,"control_1":-0.1,"control_2":-0.7,"control_4":-0.05,"control_3":-1.35,"control_5":-0.3,"EA_2":0.02,"EA_5":1.6,"EA_4":0,"EA_1":2.1,"EA_3":0},
{"r":108,"control_1":-0.4,"control_2":-0.45,"control_4":-0.05,"control_3":-1.6,"control_5":-1.05,"EA_2":0.3,"EA_5":1.6,"EA_4":0.35,"EA_1":1.1,"EA_3":0},
{"r":109,"control_1":-0.2,"control_2":-0.85,"control_4":-0.6,"control_3":-1.05,"control_5":-1.05,"EA_2":0.45,"EA_5":0.9,"EA_4":0.5,"EA_1":1.8,"EA_3":0},
{"r":110,"control_1":-1.25,"control_2":-0.75,"control_4":-0.55,"control_3":-1.4,"control_5":0,"EA_2":0.3,"EA_5":0.9,"EA_4":0.7,"EA_1":1.2,"EA_3":0},
{"r":111,"control_1":-1,"control_2":-0.9,"control_4":-0.9,"control_3":-1.05,"control_5":0.1,"EA_2":0.55,"EA_5":0.8,"EA_4":0.75,"EA_1":0.8,"EA_3":0.3},
{"r":112,"control_1":-1,"control_2":-1,"control_4":-1,"control_3":-1,"control_5":0.1,"EA_2":0.4,"EA_5":0.7,"EA_4":0.8,"EA_1":0.6,"EA_3":0.6},
{"r":113,"control_1":-0.2,"control_2":-0.5,"control_4":-1.75,"control_3":-0.9,"control_5":-0.3,"EA_2":0.5,"EA_5":1.35,"EA_4":0,"EA_1":1.8,"EA_3":0.15},
{"r":114,"control_1":-0.15,"control_2":-1.1,"control_4":-1.1,"control_3":-1.4,"control_5":0,"EA_2":0.9,"EA_5":0.25,"EA_4":0,"EA_1":2,"EA_3":0.2},
{"r":115,"control_1":0.15,"control_2":-1.1,"control_4":-1.1,"control_3":-1.55,"control_5":-0.3,"EA_2":0.05,"EA_5":0.7,"EA_4":0.1,"EA_1":1.5,"EA_3":0.6},
{"r":116,"control_1":-0.6,"control_2":-0.6,"control_4":-1.8,"control_3":-0.15,"control_5":-0.55,"EA_2":0,"EA_5":0.85,"EA_4":0.5,"EA_1":1.1,"EA_3":1.4},
{"r":117,"control_1":-0.85,"control_2":-0.65,"control_4":-0.6,"control_3":-0.3,"control_5":-0.6,"EA_2":-0.5,"EA_5":2.2,"EA_4":0.1,"EA_1":1.2,"EA_3":0.3},
{"r":118,"control_1":-0.85,"control_2":-0.95,"control_4":-0.6,"control_3":-0.4,"control_5":-0.3,"EA_2":-0.25,"EA_5":0.9,"EA_4":0.1,"EA_1":2.1,"EA_3":1},
{"r":119,"control_1":-0.85,"control_2":-1.1,"control_4":-0.35,"control_3":-0.9,"control_5":-0.35,"EA_2":-0.2,"EA_5":0.75,"EA_4":0.2,"EA_1":2,"EA_3":0.7},
{"r":120,"control_1":-0.1,"control_2":-2.1,"control_4":-0.5,"control_3":-0.25,"control_5":-0.15,"EA_2":0.05,"EA_5":0.8,"EA_4":0.3,"EA_1":0.15,"EA_3":1.6},
{"r":121,"control_1":0,"control_2":-1.9,"control_4":-0.1,"control_3":-1.05,"control_5":-0.5,"EA_2":-0.1,"EA_5":1.6,"EA_4":0.3,"EA_1":0.1,"EA_3":0.8},
{"r":122,"control_1":-0.25,"control_2":-1.4,"control_4":-0.5,"control_3":-0.7,"control_5":-0.5,"EA_2":-0.1,"EA_5":0.6,"EA_4":1.7,"EA_1":0.05,"EA_3":1.4},
{"r":123,"control_1":0.2,"control_2":-1.2,"control_4":-0.75,"control_3":-1.15,"control_5":-1.2,"EA_2":0.05,"EA_5":0.8,"EA_4":0,"EA_1":0.2,"EA_3":1.9},
{"r":124,"control_1":0.15,"control_2":-1.1,"control_4":-0.65,"control_3":-1.15,"control_5":-1.6,"EA_2":0.25,"EA_5":1.2,"EA_4":0.05,"EA_1":0.7,"EA_3":0.7},
{"r":125,"control_1":-0.95,"control_2":-1,"control_4":-0.6,"control_3":-0.85,"control_5":-0.7,"EA_2":0.5,"EA_5":0.8,"EA_4":0.25,"EA_1":1.2,"EA_3":1.2},
{"r":126,"control_1":-0.45,"control_2":-1.2,"control_4":0,"control_3":-1.2,"control_5":-1.6,"EA_2":0.5,"EA_5":1.25,"EA_4":0,"EA_1":0.65,"EA_3":1.45},
{"r":127,"control_1":0,"control_2":-1.35,"control_4":-1.1,"control_3":-1,"control_5":-0.65,"EA_2":0.3,"EA_5":1.9,"EA_4":0.35,"EA_1":1,"EA_3":0},
{"r":128,"control_1":0,"control_2":-1.5,"control_4":-1.2,"control_3":-0.4,"control_5":-1.3,"EA_2":0.3,"EA_5":1.6,"EA_4":0.8,"EA_1":0.95,"EA_3":0},
{"r":129,"control_1":-0.45,"control_2":-1.45,"control_4":0.05,"control_3":-0.8,"control_5":-1.25,"EA_2":-0.35,"EA_5":1.7,"EA_4":1.1,"EA_1":0.9,"EA_3":0.02},
{"r":130,"control_1":-0.5,"control_2":-1.45,"control_4":-0.15,"control_3":-0.8,"control_5":-1.15,"EA_2":-0.3,"EA_5":1.6,"EA_4":1.1,"EA_1":0.3,"EA_3":0.6},
{"r":131,"control_1":-0.8,"control_2":-1.55,"control_4":-0.2,"control_3":0,"control_5":-1.25,"EA_2":0.1,"EA_5":2.4,"EA_4":0.35,"EA_1":0.02,"EA_3":0.2},
{"r":132,"control_1":-0.1,"control_2":-1.25,"control_4":0,"control_3":-1.1,"control_5":-1.25,"EA_2":0,"EA_5":2.4,"EA_4":0.7,"EA_1":-0.05,"EA_3":0.2},
{"r":133,"control_1":-0.25,"control_2":-1.2,"control_4":0,"control_3":-1.4,"control_5":-1.25,"EA_2":0.7,"EA_5":2.4,"EA_4":0.9,"EA_1":-0.05,"EA_3":0.2},
{"r":134,"control_1":-0.5,"control_2":-1.55,"control_4":0,"control_3":-1.5,"control_5":0.1,"EA_2":1.1,"EA_5":0.65,"EA_4":0.6,"EA_1":-0.5,"EA_3":1.2},
{"r":135,"control_1":-0.4,"control_2":-1.1,"control_4":-1.05,"control_3":-0.6,"control_5":-0.6,"EA_2":1.7,"EA_5":0.1,"EA_4":1.5,"EA_1":0.6,"EA_3":0},
{"r":136,"control_1":-0.45,"control_2":-1.1,"control_4":-1.1,"control_3":-0.55,"control_5":-0.45,"EA_2":0.9,"EA_5":1.3,"EA_4":2,"EA_1":-0.03,"EA_3":-0.05},
{"r":137,"control_1":-0.25,"control_2":-0.2,"control_4":-1.6,"control_3":-0.85,"control_5":-0.75,"EA_2":0.8,"EA_5":1.1,"EA_4":2.1,"EA_1":-0.1,"EA_3":-0.05},
{"r":138,"control_1":-0.25,"control_2":-0.15,"control_4":-0.25,"control_3":-0.2,"control_5":-0.2,"EA_2":-0.3,"EA_5":-0.3,"EA_4":-0.25,"EA_1":-0.15,"EA_3":3},
{"r":139,"control_1":-0.45,"control_2":-0.05,"control_4":-0.3,"control_3":-0.55,"control_5":-1.5,"EA_2":0.15,"EA_5":0.1,"EA_4":0.15,"EA_1":0.05,"EA_3":2.3},
{"r":140,"control_1":0.05,"control_2":0.05,"control_4":-2.6,"control_3":0.03,"control_5":-0.1,"EA_2":1.2,"EA_5":0.8,"EA_4":0.02,"EA_1":-0.15,"EA_3":0.15},
{"r":141,"control_1":-0.2,"control_2":-0.15,"control_4":-0.25,"control_3":-0.2,"control_5":-0.15,"EA_2":3,"EA_5":-0.25,"EA_4":-0.2,"EA_1":-0.15,"EA_3":-0.35},
{"r":142,"control_1":-0.75,"control_2":-0.2,"control_4":0.02,"control_3":-0.6,"control_5":-1.05,"EA_2":2.1,"EA_5":2.1,"EA_4":-0.05,"EA_1":-0.85,"EA_3":0.15},
{"r":143,"control_1":-0.55,"control_2":-0.3,"control_4":-0.1,"control_3":-0.1,"control_5":-1,"EA_2":2.1,"EA_5":2.1,"EA_4":-0.1,"EA_1":-0.85,"EA_3":0},
{"r":144,"control_1":-0.05,"control_2":-0.9,"control_4":-0.5,"control_3":-0.25,"control_5":-1.2,"EA_2":2.1,"EA_5":2.1,"EA_4":0,"EA_1":-0.2,"EA_3":0},
{"r":145,"control_1":-0.45,"control_2":-0.7,"control_4":-0.35,"control_3":-0.3,"control_5":-0.95,"EA_2":2.15,"EA_5":2.1,"EA_4":-0.05,"EA_1":-0.25,"EA_3":0.05},
{"r":146,"control_1":-0.45,"control_2":-0.7,"control_4":-0.3,"control_3":-0.3,"control_5":-0.95,"EA_2":2,"EA_5":2.35,"EA_4":0,"EA_1":-0.25,"EA_3":-0.1},
{"r":147,"control_1":-0.45,"control_2":-0.7,"control_4":-0.3,"control_3":-0.3,"control_5":-1,"EA_2":2.2,"EA_5":2.2,"EA_4":0,"EA_1":-0.25,"EA_3":-0.05},
{"r":148,"control_1":-0.2,"control_2":-1,"control_4":-0.55,"control_3":-0.1,"control_5":-0.5,"EA_2":2.25,"EA_5":2.25,"EA_4":-0.05,"EA_1":-0.25,"EA_3":-0.1},
{"r":149,"control_1":-0.1,"control_2":-0.95,"control_4":-0.85,"control_3":-0.1,"control_5":-0.45,"EA_2":2.2,"EA_5":2.2,"EA_4":-0.2,"EA_1":-0.1,"EA_3":0},
{"r":150,"control_1":-0.75,"control_2":-0.4,"control_4":-0.4,"control_3":-0.3,"control_5":0,"EA_2":2.15,"EA_5":2.3,"EA_4":-0.3,"EA_1":-0.75,"EA_3":-0.1},
{"r":151,"control_1":-0.35,"control_2":-0.35,"control_4":-0.7,"control_3":-0.3,"control_5":-0.3,"EA_2":2.15,"EA_5":2.45,"EA_4":-0.35,"EA_1":-0.05,"EA_3":-0.4}
]},
"layer":[
{"data":{"name":"cells"},
"transform":[{"fold":["control_1","control_2","control_4","control_3","control_5","EA_2","EA_5","EA_4","EA_1","EA_3"],"as":["sample","value"]}],
"mark":{"type":"rect","strokeWidth":0.6,"stroke":{"expr":"scale('color',datum.value)"}},
"encoding":{
"x":{"field":"sample","type":"nominal","sort":null,"scale":{"type":"band","domain":["control_1","control_2","control_4","control_3","control_5","EA_2","EA_5","EA_4","EA_1","EA_3"],"range":[359,2925],"paddingInner":0,"paddingOuter":0},"axis":{"orient":"bottom","offset":-362,"title":null,"domain":false,"ticks":false,"labelPadding":18,"labelAngle":90,"labelAlign":"left","labelBaseline":"middle","labelFont":"Liberation Sans","labelFontSize":77,"labelColor":"#000000","labelOverlap":false,"labelBound":false,"labelLimit":0,"grid":false}},
"y":{"field":"r","type":"ordinal","scale":{"type":"band","range":[513,3362],"paddingInner":0,"paddingOuter":0},"axis":null},
"color":{"field":"value","type":"quantitative","scale":{"domain":[-3,-2,-1,0,1,2,3],"interpolate":"rgb","range":["#6CB82C","#209A37","#115C33","#000000","#4E0007","#84191F","#EE1216"]},"legend":{"type":"gradient","orient":"none","legendX":2959,"legendY":512,"title":null,"direction":"vertical","gradientLength":996,"gradientThickness":67,"gradientStrokeWidth":0,"values":[-3,-2,-1,0,1,2,3],"format":"d","labelFont":"Liberation Sans","labelFontSize":78,"labelColor":"#000000","labelOffset":30,"labelOverlap":false,"encode":{"labels":{"update":{"baseline":{"value":"middle"}}}}}}
}},
{"data":{"name":"left"},
"layer":[
{"mark":{"type":"rule","color":"#000000","strokeWidth":5,"strokeCap":"square"},"encoding":{"x":{"field":"h","type":"quantitative","scale":{"domain":[359,-2791],"nice":false,"zero":false},"axis":null},"y":{"field":"a","type":"quantitative","scale":{"domain":[171.34,-27.37],"nice":false,"zero":false},"axis":null},"y2":{"field":"b"}}},
{"mark":{"type":"rule","color":"#000000","strokeWidth":5},"encoding":{"x":{"field":"h","type":"quantitative","axis":null},"x2":{"field":"ha"},"y":{"field":"a","type":"quantitative","axis":null}}},
{"mark":{"type":"rule","color":"#000000","strokeWidth":5},"encoding":{"x":{"field":"h","type":"quantitative","axis":null},"x2":{"field":"hb"},"y":{"field":"b","type":"quantitative","axis":null}}}
]},
{"data":{"name":"top"},
"layer":[
{"mark":{"type":"rule","color":"#000000","strokeWidth":5,"strokeCap":"square"},"encoding":{"x":{"field":"p1","type":"quantitative","scale":{"domain":[-1.3991,10.8768],"nice":false,"zero":false},"axis":null},"x2":{"field":"p2"},"y":{"field":"m","type":"quantitative","scale":{"domain":[-3211,513],"nice":false,"zero":false},"axis":null}}},
{"mark":{"type":"rule","color":"#000000","strokeWidth":5},"encoding":{"x":{"field":"p1","type":"quantitative","axis":null},"y":{"field":"m","type":"quantitative","axis":null},"y2":{"field":"m1"}}},
{"mark":{"type":"rule","color":"#000000","strokeWidth":5},"encoding":{"x":{"field":"p2","type":"quantitative","axis":null},"y":{"field":"m","type":"quantitative","axis":null},"y2":{"field":"m2"}}},
{"data":{"values":[{"label":"Heatmap","p":4.934,"m":442}]},"mark":{"type":"text","font":"Liberation Sans","fontSize":78,"fontWeight":"bold","color":"#000000","align":"center","baseline":"alphabetic"},"encoding":{"x":{"field":"p","type":"quantitative","axis":null},"y":{"field":"m","type":"quantitative","axis":null},"text":{"field":"label"}}}
]}
]}
